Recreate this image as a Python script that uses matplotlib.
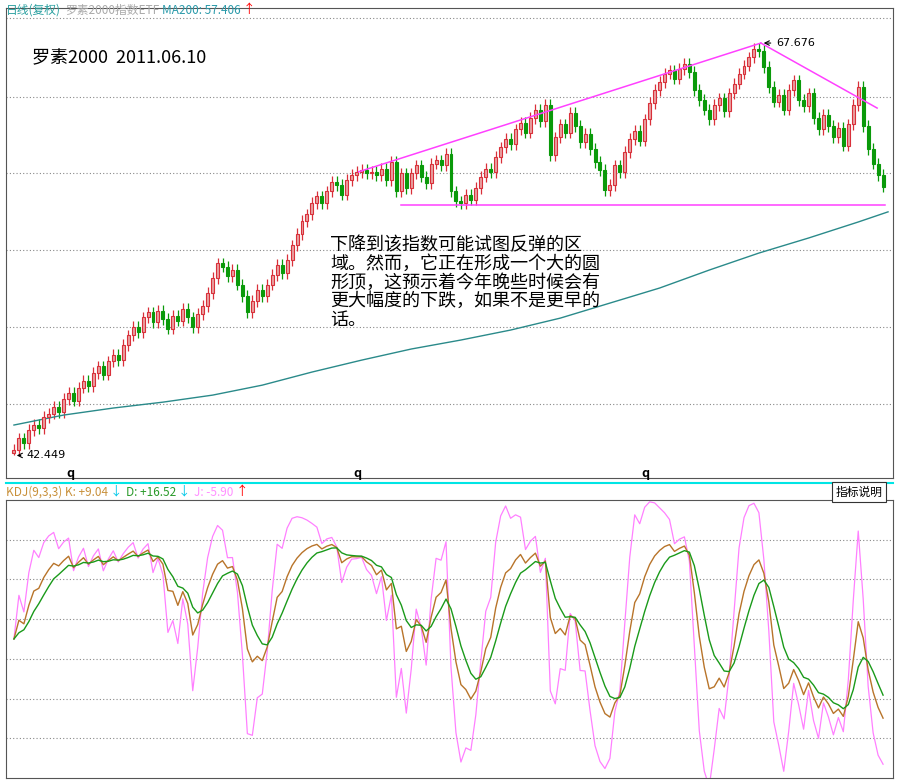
import numpy as np
import matplotlib.pyplot as plt

plt.rcParams['font.family'] = ['Noto Sans CJK SC', 'DejaVu Sans']

# ---------------- 数据 ----------------
closes = [42.8, 43.5, 43.2, 44.0, 44.3, 44.1, 44.8, 45.0, 45.4, 45.1,
          45.9, 46.3, 45.8, 46.6, 47.0, 46.7, 47.5, 47.9, 47.4, 48.2,
          48.6, 48.3, 49.2, 49.8, 50.3, 50.0, 50.9, 51.2, 50.6, 51.3,
          50.8, 50.2, 51.0, 50.7, 51.4, 50.9, 50.3, 51.1, 51.6, 52.4,
          53.3, 54.2, 54.0, 53.4, 53.8, 52.9, 52.2, 51.2, 51.9, 52.6,
          52.2, 52.9, 53.5, 54.1, 53.6, 54.4, 55.3, 56.0, 56.8, 57.2,
          57.9, 58.3, 57.9, 58.6, 59.2, 59.0, 58.4, 59.3, 59.6, 59.8,
          59.9, 59.7, 59.8, 59.6, 60.0, 59.3, 60.4, 58.6, 59.7, 58.8,
          59.7, 60.2, 59.5, 59.1, 60.3, 60.5, 60.2, 60.9, 58.6, 58.0,
          57.9, 58.4, 58.1, 58.8, 59.5, 60.0, 59.8, 60.7, 61.3, 61.8,
          61.5, 62.4, 62.8, 62.2, 63.1, 63.6, 62.9, 63.9, 60.8, 61.9,
          62.7, 62.2, 63.4, 62.6, 61.6, 62.1, 61.2, 60.4, 59.9, 58.7,
          59.0, 60.2, 59.8, 61.0, 61.8, 62.3, 61.7, 63.0, 64.0, 64.8,
          65.3, 65.8, 66.0, 65.5, 66.1, 66.4, 65.9, 64.8, 64.2, 63.6,
          63.0, 63.9, 64.3, 63.5, 64.6, 65.2, 65.8, 66.3, 66.8, 67.3,
          67.2, 66.2, 65.0, 64.1, 64.5, 63.6, 64.8, 65.4, 64.2, 63.8,
          64.6, 63.1, 62.4, 63.3, 62.6, 61.9, 62.5, 61.4, 62.7, 63.9,
          65.0, 62.6, 61.2, 60.3, 59.6, 58.9]
first_open = 42.6

ma_idx = [0, 10, 20, 30, 40, 50, 60, 70, 80, 90, 100, 110, 120, 130, 140, 150, 160, 170, 176]
ma_val = [44.31, 44.92, 45.35, 45.71, 46.14, 46.75, 47.55, 48.28, 48.96, 49.51,
          50.12, 50.85, 51.77, 52.69, 53.79, 54.83, 55.75, 56.73, 57.35]

high_label = '67.676'
low_label = '42.449'
upper_trend = ([69.4, 150.4], [59.8, 67.676])
right_trend = ([150.4, 173.8], [67.676, 63.7])
support = ([78, 175.4], [57.77, 57.77])

note = '下降到该指数可能试图反弹的区\n域。然而，它正在形成一个大的圆\n形顶，这预示着今年晚些时候会有\n更大幅度的下跌，如果不是更早的\n话。'

# ---------------- 计算 ----------------
c = np.array(closes)
o = np.r_[first_open, c[:-1]]
hi = np.maximum(o, c) + 0.35
lo = np.minimum(o, c) - 0.35
hi[150] = 67.676
lo[0] = 42.449
n = len(c)
x = np.arange(n)

# KDJ(9,3,3)
K = np.zeros(n); D = np.zeros(n)
k, d = 50.0, 50.0
for i in range(n):
    hh = hi[max(0, i - 8):i + 1].max()
    ll = lo[max(0, i - 8):i + 1].min()
    rsv = (c[i] - ll) / (hh - ll) * 100 if hh > ll else 50
    k = (2 * k + rsv) / 3
    d = (2 * d + k) / 3
    K[i] = k; D[i] = d
J = 3 * K - 2 * D

# ---------------- 图 ----------------
fig = plt.figure(figsize=(8.98, 7.83), dpi=100)
W, H = 898, 783
ax = fig.add_axes([6 / W, 1 - 478 / H, 887 / W, 470 / H])
ax2 = fig.add_axes([6 / W, 1 - 778 / H, 887 / W, 278 / H])

xl = (-1.6, (885 - 8) / 5 + 1.6)
for a in (ax, ax2):
    a.set_xlim(xl)
    a.set_xticks([])
    a.set_yticks([])
    for s in a.spines.values():
        s.set_color('#555555')

ax.set_ylim(41.07, 69.82)
for g in [69.2, 64.4, 59.7, 55.0, 50.3, 45.6]:
    ax.axhline(g, color='#888888', ls=(0, (1, 2)), lw=0.8, zorder=0)

up = c >= o
w = 0.6
for i in range(n):
    col = '#d9303a' if up[i] else '#0a9a0a'
    ax.vlines(x[i], lo[i], hi[i], color=col, lw=0.9, zorder=2)
    b0, b1 = min(o[i], c[i]), max(o[i], c[i])
    if b1 - b0 < 0.05:
        b1 = b0 + 0.05
    ax.bar(x[i], b1 - b0, w, bottom=b0, color='#e8a0a0' if up[i] else col,
           edgecolor=col, lw=0.8, zorder=3)

ax.plot(ma_idx, ma_val, color='#2a8a8a', lw=1.0, zorder=2)
for tx, ty in (upper_trend, right_trend, support):
    ax.plot(tx, ty, color='#ff40ff', lw=1.1, zorder=4)

ax.annotate(high_label, xy=(150.4, 67.676), xytext=(153.5, 67.676), fontsize=8,
            va='center', family='DejaVu Sans',
            arrowprops=dict(arrowstyle='->', color='black', lw=0.8))
ax.annotate(low_label, xy=(0, 42.449), xytext=(2.5, 42.449), fontsize=8,
            va='center', family='DejaVu Sans',
            arrowprops=dict(arrowstyle='->', color='black', lw=0.8))

for qx in [70, 357, 645]:
    fig.text(qx / W, 1 - 474 / H, 'q', fontsize=9, ha='center', va='center', weight='bold')

ax.text(26 / 887, 1 - 50 / 470, '罗素2000  2011.06.10', transform=ax.transAxes,
        fontsize=13, va='center')
ax.text(324 / 887, 1 - 228 / 470, note, transform=ax.transAxes, fontsize=13,
        va='top', linespacing=1.05)


def header(y, parts):
    prev = fig.text(6 / W, y, parts[0][0], color=parts[0][1], fontsize=parts[0][2], va='center')
    for txt, col, fs, gap in parts[1:]:
        prev = fig.text(0, 0, '', fontsize=fs) if False else plt.annotate(
            txt, xy=(1, 0.5), xycoords=prev, xytext=(gap, 0), textcoords='offset points',
            va='center', color=col, fontsize=fs, annotation_clip=False)
    return prev


header(1 - 10 / H, [('日线(复权)', '#2aa0a0', 8.5),
                    ('罗素2000指数ETF', '#aaaaaa', 8.5, 3),
                    ('MA200: 57.406', '#2a9aaa', 8.5, 2),
                    ('↑', 'red', 9, 1)])

fig.add_artist(plt.Line2D([6 / W, 893 / W], [1 - 483 / H] * 2, color='#00e5e5', lw=1.5))

ax2.set_ylim(-12, 112)
for g in np.linspace(-12, 112, 8)[1:-1]:
    ax2.axhline(g, color='#888888', ls=(0, (1, 2)), lw=0.8, zorder=0)
ax2.plot(x, J, color='#ff80ff', lw=0.9)
ax2.plot(x, K, color='#b8742a', lw=1.0)
ax2.plot(x, D, color='#1a9a1a', lw=1.0)

header(1 - 492 / H, [('KDJ(9,3,3) K: +9.04', '#c8903a', 8.5),
                     ('↓', '#00c8e8', 9, 1),
                     ('D: +16.52', '#2a9a2a', 8.5, 3),
                     ('↓', '#00c8e8', 9, 1),
                     ('J: -5.90', '#ff90ff', 8.5, 3),
                     ('↑', 'red', 9, 1)])
fig.text(859 / W, 1 - 492 / H, '指标说明', fontsize=8.5, va='center', ha='center',
         bbox=dict(boxstyle='square,pad=0.3', fc='white', ec='#333333', lw=0.8))

fig.savefig('out.png', dpi=100, facecolor='white')
